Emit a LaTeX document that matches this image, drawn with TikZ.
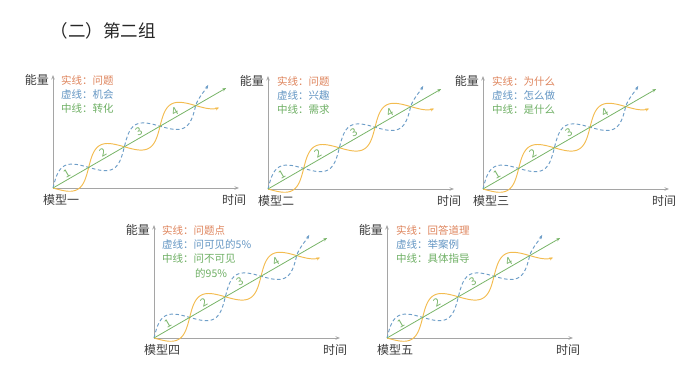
\documentclass[tikz,border=0pt]{standalone}
\usepackage{fontspec}
\setmainfont{Noto Sans CJK SC}
\usetikzlibrary{arrows.meta}
\definecolor{axisgray}{RGB}{165,165,165}
\definecolor{curveyel}{RGB}{243,188,80}
\definecolor{curveblue}{RGB}{110,158,200}
\definecolor{midgreen}{RGB}{120,180,104}
\definecolor{txtorange}{RGB}{222,132,92}
\definecolor{txtblue}{RGB}{100,150,195}
\definecolor{txtgreen}{RGB}{110,175,100}
\definecolor{labgray}{RGB}{60,60,60}
\tikzset{
 axisline/.style={draw=axisgray, line width=0.9pt, -{Stealth[length=4.5pt,width=3.5pt]}},
 yelcurve/.style={draw=curveyel, line width=0.95pt, -{Stealth[length=4pt,width=3pt]}},
 dshcurve/.style={draw=curveblue, line width=0.95pt, dash pattern=on 3.5pt off 2.5pt, -{Stealth[length=4pt,width=3pt]}},
 midline/.style={draw=midgreen, line width=0.8pt, -{Stealth[length=4pt,width=3pt]}},
 lab/.style={font=\fontsize{12}{12}\selectfont, text=labgray, inner sep=0pt},
 leg/.style={font=\fontsize{10.5}{10.5}\selectfont, inner sep=0pt, anchor=west},
 num/.style={font=\fontsize{11}{11}\selectfont, text=midgreen, inner sep=0pt},
}
\newcommand\drawpanel[4]{%
 \coordinate (o#1) at (#2,#3);
 \path (o#1) ++(0,113) coordinate (y#1);
 \path (o#1) ++(186,0) coordinate (x#1);
 \path (o#1) ++(30:200) coordinate (g#1);
 \draw[axisline] (o#1) -- (y#1);
 \draw[axisline] (o#1) -- (x#1);
 \begin{scope}[shift={(o#1)},rotate=30]
  \draw[dshcurve] plot[domain=0:4,samples=140] ({41.2*\x},{13.5*sin(180*\x)})
     .. controls (169.7,5.0) and (179.9,8.2) .. (186,11.7);
  \draw[yelcurve] plot[domain=0:4.47,samples=150] ({41.2*\x},{-13.5*sin(180*\x)});
 \end{scope}
 \draw[midline] (o#1) -- (g#1);
 \begin{scope}[shift={(o#1)},rotate=30]
  \foreach \k/\a in {1/20,2/61,3/103,4/144} \node[num,rotate=30] (n#1\k) at (\a,5.5) {\k};
 \end{scope}
 \path (y#1) ++(-4,-5) node[lab,anchor=east] (e#1) {能量};
 \path (o#1) ++(8,-12) node[lab] (m#1) {#4};
 \path (x#1) ++(-5,-12) node[lab] (t#1) {时间};
}
\begin{document}
\begin{tikzpicture}[x=1pt,y=1pt]
\useasboundingbox (0,0) rectangle (688,366);
\node[font=\fontsize{17.5}{17.5}\selectfont, text=black!85, inner sep=0pt] (title) at (103,335) {（二）第二组};

\drawpanel{1}{53}{178}{模型一}
\path (y1) ++(8,-5) node[leg,text=txtorange] (a1) {实线：问题};
\path (y1) ++(8,-19.2) node[leg,text=txtblue] (b1) {虚线：机会};
\path (y1) ++(8,-33.4) node[leg,text=txtgreen] (c1) {中线：转化};

\drawpanel{2}{268}{177}{模型二}
\path (y2) ++(9,-5) node[leg,text=txtorange] (a2) {实线：问题};
\path (y2) ++(9,-19.2) node[leg,text=txtblue] (b2) {虚线：兴趣};
\path (y2) ++(9,-33.4) node[leg,text=txtgreen] (c2) {中线：需求};

\drawpanel{3}{483}{177}{模型三}
\path (y3) ++(9,-5) node[leg,text=txtorange] (a3) {实线：为什么};
\path (y3) ++(9,-19.2) node[leg,text=txtblue] (b3) {虚线：怎么做};
\path (y3) ++(9,-33.4) node[leg,text=txtgreen] (c3) {中线：是什么};

\drawpanel{4}{154}{28}{模型四}
\path (y4) ++(8,-5) node[leg,text=txtorange] (a4) {实线：问题点};
\path (y4) ++(8,-19.4) node[leg,text=txtblue] (b4) {虚线：问可见的5\%};
\path (y4) ++(8,-33.8) node[leg,text=txtgreen] (c4) {中线：问不可见};
\path (y4) ++(41,-48.2) node[leg,text=txtgreen] (d4) {的95\%};

\drawpanel{5}{387}{28}{模型五}
\path (y5) ++(9,-5) node[leg,text=txtorange] (a5) {实线：回答道理};
\path (y5) ++(9,-19.2) node[leg,text=txtblue] (b5) {虚线：举案例};
\path (y5) ++(9,-33.4) node[leg,text=txtgreen] (c5) {中线：具体指导};
\end{tikzpicture}
\end{document}
